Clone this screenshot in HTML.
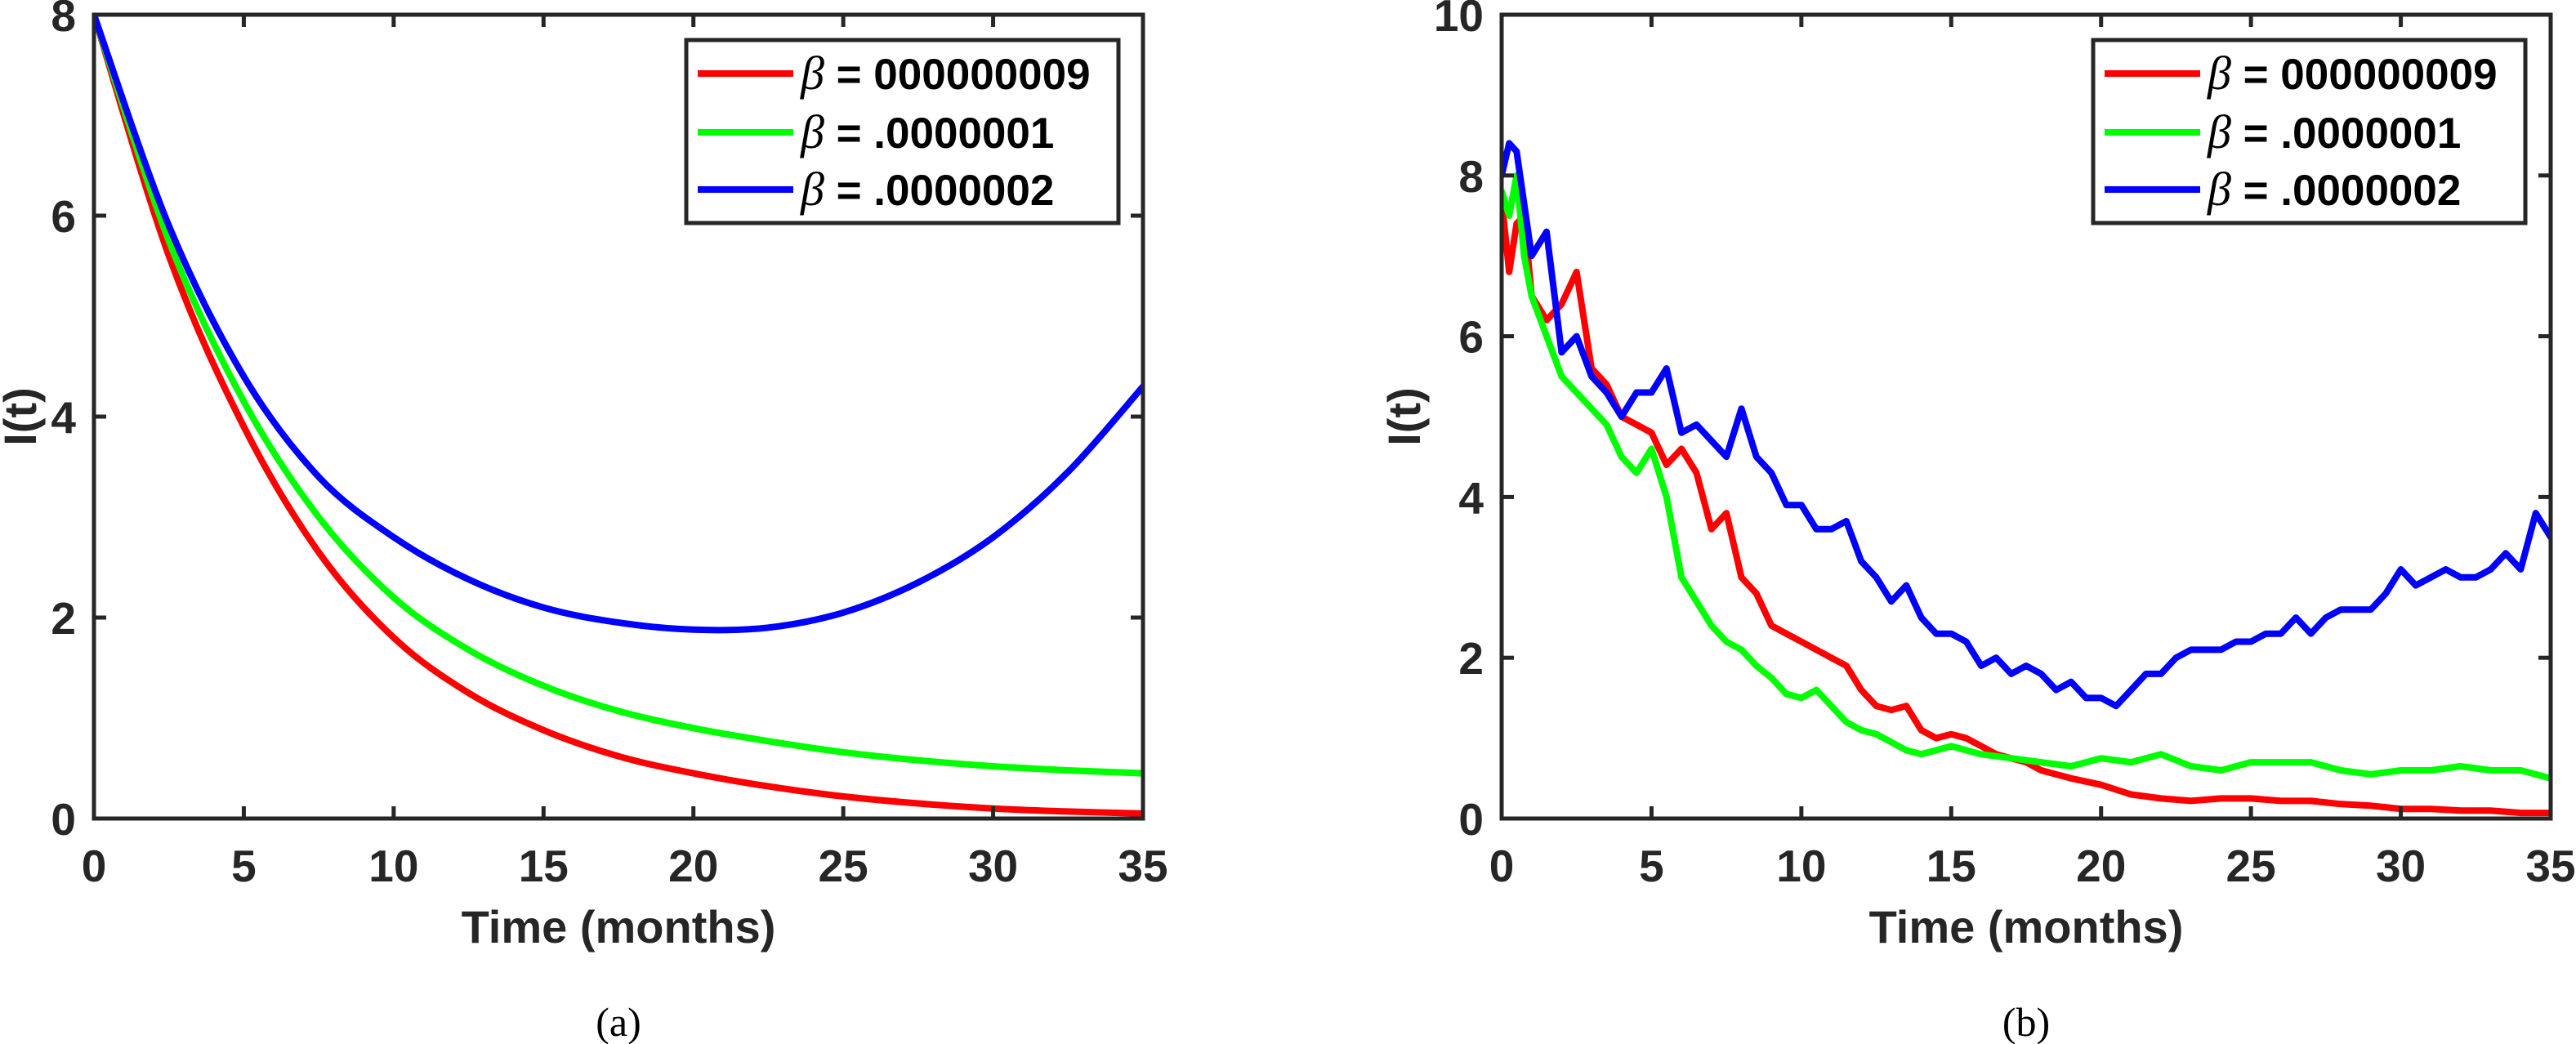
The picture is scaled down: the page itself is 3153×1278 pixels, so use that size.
<!DOCTYPE html>
<html><head><meta charset="utf-8"><style>
html,body{margin:0;padding:0;background:#fff;}
svg{display:block;}
</style></head><body>
<svg id="fig" width="3153" height="1278" viewBox="0 0 3153 1278" xmlns="http://www.w3.org/2000/svg"></svg>
<script>
// ---- data: panel (a) deterministic ----
const tA = [0,2.5,5,7.5,10,12.5,15,17.5,20,22.5,25,27.5,30,32.5,35];
const redA = [8,5.6,3.9,2.65,1.8,1.25,0.88,0.62,0.45,0.32,0.22,0.15,0.1,0.07,0.05];
const greenA = [8,5.75,4.15,3.0,2.2,1.68,1.32,1.07,0.9,0.77,0.66,0.58,0.52,0.48,0.45];
const blueA = [8,5.9,4.4,3.4,2.8,2.38,2.1,1.95,1.88,1.9,2.05,2.35,2.8,3.45,4.3];
// ---- data: panel (b) stochastic ----
const tBlue = [0,0.25,0.5,1,1.5,2,2.5,3,3.5,4,4.5,5,5.5,6,6.5,7,7.5,8,8.5,9,9.5,10,10.5,11,11.5,12,12.5,13,13.5,14,14.5,15,15.5,16,16.5,17,17.5,18,18.5,19,19.5,20,20.5,21,21.5,22,22.5,23,23.5,24,24.5,25,25.5,26,26.5,27,27.5,28,28.5,29,29.5,30,30.5,31,31.5,32,32.5,33,33.5,34,34.5,35];
const blueB = [8.0,8.4,8.3,7.0,7.3,5.8,6.0,5.5,5.3,5.0,5.3,5.3,5.6,4.8,4.9,4.7,4.5,5.1,4.5,4.3,3.9,3.9,3.6,3.6,3.7,3.2,3.0,2.7,2.9,2.5,2.3,2.3,2.2,1.9,2.0,1.8,1.9,1.8,1.6,1.7,1.5,1.5,1.4,1.6,1.8,1.8,2.0,2.1,2.1,2.1,2.2,2.2,2.3,2.3,2.5,2.3,2.5,2.6,2.6,2.6,2.8,3.1,2.9,3.0,3.1,3.0,3.0,3.1,3.3,3.1,3.8,3.5];
const tRed = [0,0.25,0.5,0.75,1,1.5,2,2.5,3,3.5,4,4.5,5,5.5,6,6.5,7,7.5,8,8.5,9,9.5,10,10.5,11,11.5,12,12.5,13,13.5,14,14.5,15,15.5,16,16.5,17,17.5,18,19,20,21,22,23,24,25,26,27,28,29,30,31,32,33,34,35];
const redB = [7.7,6.8,7.4,7.5,6.5,6.2,6.4,6.8,5.6,5.4,5.0,4.9,4.8,4.4,4.6,4.3,3.6,3.8,3.0,2.8,2.4,2.3,2.2,2.1,2.0,1.9,1.6,1.4,1.35,1.4,1.1,1.0,1.05,1.0,0.9,0.8,0.75,0.7,0.6,0.5,0.42,0.3,0.25,0.22,0.25,0.25,0.22,0.22,0.18,0.16,0.12,0.12,0.1,0.1,0.07,0.07];
const tGreen = [0,0.25,0.5,0.75,1,1.5,2,2.5,3,3.5,4,4.5,5,5.5,6,6.5,7,7.5,8,8.5,9,9.5,10,10.5,11,11.5,12,12.5,13,13.5,14,14.5,15,15.5,16,17,18,19,20,21,22,23,24,25,26,27,28,29,30,31,32,33,34,35];
const greenB = [7.8,7.5,8.0,7.0,6.5,6.0,5.5,5.3,5.1,4.9,4.5,4.3,4.6,4.0,3.0,2.7,2.4,2.2,2.1,1.9,1.75,1.55,1.5,1.6,1.4,1.2,1.1,1.05,0.95,0.85,0.8,0.85,0.9,0.85,0.8,0.75,0.7,0.65,0.75,0.7,0.8,0.65,0.6,0.7,0.7,0.7,0.6,0.55,0.6,0.6,0.65,0.6,0.6,0.5];
// ---- ticks / labels ----
const xTicks = [0,5,10,15,20,25,30,35];
const yTicksA = [0,2,4,6,8];
const yTicksB = [0,2,4,6,8,10];
const legendLabels = ["000000009",".0000001",".0000002"];
const colors = ["#ff0000","#00ff00","#0000ff"];

const NS="http://www.w3.org/2000/svg";
const svg=document.getElementById('fig');
function mk(tag,attrs,parent){const e=document.createElementNS(NS,tag);for(const k in attrs)e.setAttribute(k,attrs[k]);(parent||svg).appendChild(e);return e;}

function smoothPath(pts){ // Catmull-Rom
  let d='M'+pts[0][0].toFixed(1)+','+pts[0][1].toFixed(1);
  for(let i=0;i<pts.length-1;i++){
    const p0=pts[i-1]||pts[i],p1=pts[i],p2=pts[i+1],p3=pts[i+2]||p2;
    const c1=[p1[0]+(p2[0]-p0[0])/6,p1[1]+(p2[1]-p0[1])/6];
    const c2=[p2[0]-(p3[0]-p1[0])/6,p2[1]-(p3[1]-p1[1])/6];
    d+='C'+c1[0].toFixed(1)+','+c1[1].toFixed(1)+' '+c2[0].toFixed(1)+','+c2[1].toFixed(1)+' '+p2[0].toFixed(1)+','+p2[1].toFixed(1);
  }
  return d;
}
function linePath(pts){return pts.map((p,i)=>(i?'L':'M')+p[0].toFixed(1)+','+p[1].toFixed(1)).join('');}

function panel(cfg){
  const {L,R,T,B,ymax,yTicks,series,smooth,tag,sub}=cfg;
  const g=mk('g',{});
  
  
  const xs=t=>L+(t/35)*(R-L);
  const ys=v=>B-(v/ymax)*(B-T);
  const clip=mk('clipPath',{id:'clip-'+tag},g);
  mk('rect',{x:L,y:T,width:R-L,height:B-T},clip);
  const sg=mk('g',{'clip-path':'url(#clip-'+tag+')'},g);
  series.forEach((s,i)=>{
    const pts=s.t.map((t,j)=>[xs(t),ys(s.v[j])]);
    const p=mk('path',{d:smooth?smoothPath(pts):linePath(pts),fill:'none',stroke:colors[i],'stroke-width':8,'stroke-linejoin':'round','stroke-linecap':'round'},sg);
    
    
  });
  // axes box
  const box=mk('rect',{x:L,y:T,width:R-L,height:B-T,fill:'none',stroke:'#262626','stroke-width':5},g);
  
  
  xTicks.forEach(t=>{
    const x=xs(t);
    mk('line',{x1:x,y1:B,x2:x,y2:B-15,stroke:'#262626','stroke-width':5},g);
    mk('line',{x1:x,y1:T,x2:x,y2:T+15,stroke:'#262626','stroke-width':5},g);
    const tx=mk('text',{x:x,y:1079,'text-anchor':'middle','font-family':'Liberation Sans, sans-serif','font-weight':'bold','font-size':55,fill:'#262626'},g);
    tx.textContent=t;
    
    
  });
  yTicks.forEach(v=>{
    const y=ys(v);
    mk('line',{x1:L,y1:y,x2:L+15,y2:y,stroke:'#262626','stroke-width':5},g);
    mk('line',{x1:R,y1:y,x2:R-15,y2:y,stroke:'#262626','stroke-width':5},g);
    const tx=mk('text',{x:L-22,y:y+20,'text-anchor':'end','font-family':'Liberation Sans, sans-serif','font-weight':'bold','font-size':55,fill:'#262626'},g);
    tx.textContent=v;
    
    
  });
  const xt=mk('text',{x:(L+R)/2,y:1154,'text-anchor':'middle','font-family':'Liberation Sans, sans-serif','font-weight':'bold','font-size':56,fill:'#262626'},g);
  xt.textContent='Time (months)';
  
  
  const yx=cfg.ylabX;
  const yt=mk('text',{x:yx,y:(T+B)/2,'text-anchor':'middle','font-family':'Liberation Sans, sans-serif','font-weight':'bold','font-size':56,fill:'#262626',transform:'rotate(-90 '+yx+' '+((T+B)/2)+')'},g);
  yt.textContent='I(t)';
  
  
  const st=mk('text',{x:(L+R)/2,y:1268,'text-anchor':'middle','font-family':'Liberation Serif, serif','font-size':50,fill:'#000'},g);
  st.textContent=sub;
  
  
  // legend
  const lx=cfg.legX, lw=529, ly=49, lh=224;
  const lg=mk('g',{},g);
  
  
  mk('rect',{x:lx,y:ly,width:lw,height:lh,fill:'#fff',stroke:'#262626','stroke-width':5},lg);
  const rowY=[90,162,232];
  legendLabels.forEach((lab,i)=>{
    const e=mk('g',{},lg);
    
    
    mk('line',{x1:lx+14,y1:rowY[i],x2:lx+131,y2:rowY[i],stroke:colors[i],'stroke-width':8},e);
    const t=mk('text',{x:lx+140,y:rowY[i]+19,'font-family':'Liberation Sans, sans-serif','font-weight':'bold','font-size':53,fill:'#000'},e);
    const b=mk('tspan',{'font-family':'Liberation Serif, serif','font-style':'italic','font-weight':'normal','font-size':58},t);
    b.textContent='β';
    const r=mk('tspan',{},t);
    r.textContent=' = '+lab;
  });
}

panel({tag:'a',sub:'(a)',L:115,R:1399,T:18,B:1002,ymax:8,yTicks:yTicksA,smooth:true,ylabX:44,legX:840,
  series:[{t:tA,v:redA},{t:tA,v:greenA},{t:tA,v:blueA}]});
panel({tag:'b',sub:'(b)',L:1838,R:3122,T:18,B:1002,ymax:10,yTicks:yTicksB,smooth:false,ylabX:1738,legX:2562,
  series:[{t:tRed,v:redB},{t:tGreen,v:greenB},{t:tBlue,v:blueB}]});
</script>
</body></html>
